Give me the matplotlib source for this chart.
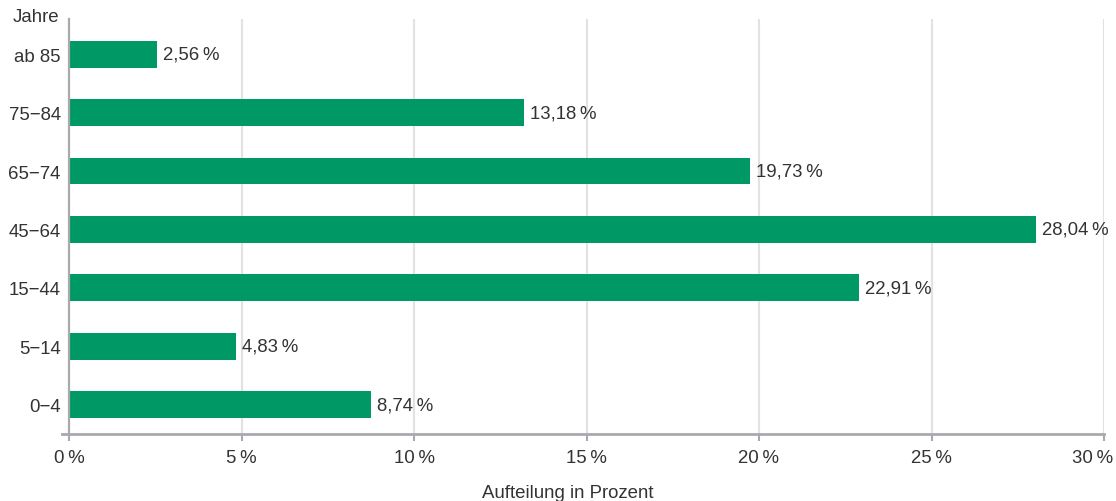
import matplotlib
matplotlib.use("Agg")
import matplotlib.pyplot as plt
from matplotlib.lines import Line2D
from matplotlib.transforms import ScaledTranslation

plt.rcParams['font.family'] = ['Liberation Sans', 'DejaVu Sans']

categories = ["0\u22124", "5\u221214", "15\u221244", "45\u221264", "65\u221274", "75\u221284", "ab 85"]
values = [8.74, 4.83, 22.91, 28.04, 19.73, 13.18, 2.56]
xticks = [0, 5, 10, 15, 20, 25, 30]

W, H = 1116, 502
fig = plt.figure(figsize=(W / 100, H / 100), dpi=100)
ax = fig.add_axes([69 / W, 67 / H, (1104 - 69) / W, (482 - 67) / H])

bar_color = "#009966"
text_color = "#333333"
axis_color = "#a9a9ae"
grid_color = "#e2e2e2"
fs = 13.4

y = list(range(len(categories)))
ax.barh(y, values, height=0.46, color=bar_color, zorder=3)

def fmt(v):
    return f"{v:.2f}".replace(".", ",") + "\u2009%"

for yi, v in zip(y, values):
    ax.annotate(fmt(v), xy=(v, yi), xytext=(4.3, 0), textcoords="offset points",
                va="center", ha="left", fontsize=fs, color=text_color)

ax.set_xlim(0, 30)
ax.set_ylim(-0.505, 6.605)
ax.set_yticks(y)
ax.set_yticklabels(categories, fontsize=fs, color=text_color)
ax.set_xticks(xticks)
ax.set_xticklabels([f"{t}\u2009%" for t in xticks], fontsize=fs, color=text_color)
ax.tick_params(axis="y", length=0, pad=6)
ax.tick_params(axis="x", length=5, width=1.5, color=axis_color, pad=6)

last = ax.get_xticklabels()[-1]
last.set_horizontalalignment("right")
last.set_transform(last.get_transform() + ScaledTranslation(9 / 100, 0, fig.dpi_scale_trans))

for t in xticks[1:]:
    ax.axvline(t, color=grid_color, lw=1.5, zorder=1)

for s in ["top", "right", "bottom"]:
    ax.spines[s].set_visible(False)
ax.spines["left"].set_color(axis_color)
ax.spines["left"].set_linewidth(1.6)
ax.spines["left"].set_zorder(4)

ax.add_line(Line2D([-7 / (1104 - 69), 1.0], [0, 0], transform=ax.transAxes,
                   color=axis_color, lw=2, clip_on=False, zorder=5))

fig.text(59 / W, 1 - 18 / H, "Jahre", ha="right", va="center", fontsize=fs, color=text_color)
fig.text(568 / W, 1 - 494 / H, "Aufteilung in Prozent", ha="center", va="center",
         fontsize=fs, color=text_color)

fig.savefig("out.png", dpi=100)
